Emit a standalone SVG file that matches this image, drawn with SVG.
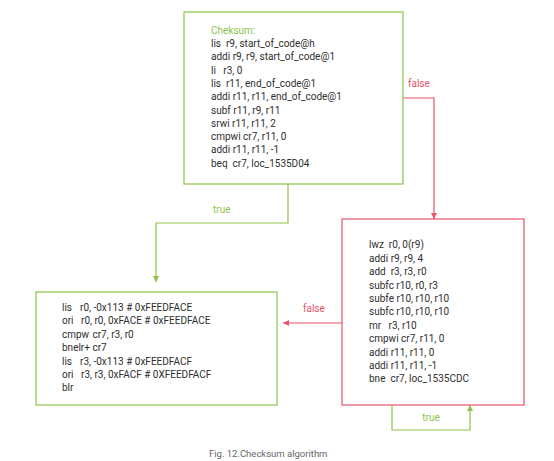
<svg xmlns="http://www.w3.org/2000/svg" width="554" height="461" viewBox="0 0 554 461">
<defs>
<style>
.code{font-family:Roboto,"Liberation Sans",sans-serif;font-size:10px;fill:#2e2e2e;white-space:pre}
.gbox{fill:#fff;stroke:#8bc34a;stroke-width:1.2}
.rbox{fill:#fff;stroke:#e8546a;stroke-width:1.2}
.gline{fill:none;stroke:#8bc34a;stroke-width:1.2}
.rline{fill:none;stroke:#e8546a;stroke-width:1.2}
.glabel{font-family:Roboto,"Liberation Sans",sans-serif;font-size:10px;fill:#8bc34a}
.rlabel{font-family:Roboto,"Liberation Sans",sans-serif;font-size:10px;fill:#e8546a}
.cap{font-family:Roboto,"Liberation Sans",sans-serif;font-size:9.5px;fill:#666}
</style>
<marker id="ag" viewBox="0 0 8 8" refX="8" refY="4" markerWidth="6" markerHeight="6" markerUnits="userSpaceOnUse" orient="auto"><path d="M0,0 L8,4 L0,8 z" fill="#8bc34a"/></marker>
<marker id="ar" viewBox="0 0 8 8" refX="8" refY="4" markerWidth="6" markerHeight="6" markerUnits="userSpaceOnUse" orient="auto"><path d="M0,0 L8,4 L0,8 z" fill="#e8546a"/></marker>
</defs>
<rect width="554" height="461" fill="#fff"/>
<g id="connectors">
<path class="gline" d="M288,184 V223 H156 V282" marker-end="url(#ag)"/>
<text class="glabel" x="213" y="213">true</text>
<path class="rline" d="M403,98 H434 V219" marker-end="url(#ar)"/>
<text class="rlabel" x="408" y="87">false</text>
<path class="rline" d="M342,323 H283" marker-end="url(#ar)"/>
<text class="rlabel" x="303" y="312">false</text>
<path class="gline" d="M392,405 V430 H470 V405" marker-end="url(#ag)"/>
<text class="glabel" x="431" y="421" text-anchor="middle">true</text>
</g>
<g id="checksum">
<rect class="gbox" x="184" y="12" width="219" height="172"/>
<text class="glabel" x="211" y="34">Cheksum:</text>
<text class="code" x="211" y="47" xml:space="preserve">lis  r9, start_of_code@h</text>
<text class="code" x="211" y="60.3" xml:space="preserve">addi r9, r9, start_of_code@1</text>
<text class="code" x="211" y="73.6" xml:space="preserve">li   r3, 0</text>
<text class="code" x="211" y="86.9" xml:space="preserve">lis  r11, end_of_code@1</text>
<text class="code" x="211" y="100.2" xml:space="preserve">addi r11, r11, end_of_code@1</text>
<text class="code" x="211" y="113.5" xml:space="preserve">subf r11, r9, r11</text>
<text class="code" x="211" y="126.8" xml:space="preserve">srwi r11, r11, 2</text>
<text class="code" x="211" y="140.1" xml:space="preserve">cmpwi cr7, r11, 0</text>
<text class="code" x="211" y="153.4" xml:space="preserve">addi r11, r11, -1</text>
<text class="code" x="211" y="166.7" xml:space="preserve">beq  cr7, loc_1535D04</text>
</g>
<g id="fail">
<rect class="gbox" x="36" y="292" width="241" height="113"/>
<text class="code" x="62" y="311">lis<tspan x="80">r0, -0x113 # 0xFEEDFACE</tspan></text>
<text class="code" x="62" y="324.4">ori<tspan x="81">r0, r0, 0xFACE # 0xFEEDFACE</tspan></text>
<text class="code" x="62" y="337.8">cmpw<tspan x="92.5">cr7, r3, r0</tspan></text>
<text class="code" x="62" y="351.2">bnelr+ cr7</text>
<text class="code" x="62" y="364.6">lis<tspan x="80">r3, -0x113 # 0xFEEDFACF</tspan></text>
<text class="code" x="62" y="378">ori<tspan x="81">r3, r3, 0xFACF # 0XFEEDFACF</tspan></text>
<text class="code" x="62" y="391.4">blr</text>
</g>
<g id="loop">
<rect class="rbox" x="342" y="219" width="182" height="186"/>
<text class="code" x="369" y="248.3" xml:space="preserve">lwz  r0, 0(r9)</text>
<text class="code" x="369" y="261.7" xml:space="preserve">addi r9, r9, 4</text>
<text class="code" x="369" y="275.1" xml:space="preserve">add  r3, r3, r0</text>
<text class="code" x="369" y="288.5" xml:space="preserve">subfc r10, r0, r3</text>
<text class="code" x="369" y="301.9" xml:space="preserve">subfe r10, r10, r10</text>
<text class="code" x="369" y="315.3" xml:space="preserve">subfc r10, r10, r10</text>
<text class="code" x="369" y="328.7" xml:space="preserve">mr   r3, r10</text>
<text class="code" x="369" y="342.1" xml:space="preserve">cmpwi cr7, r11, 0</text>
<text class="code" x="369" y="355.5" xml:space="preserve">addi r11, r11, 0</text>
<text class="code" x="369" y="368.9" xml:space="preserve">addi r11, r11, -1</text>
<text class="code" x="369" y="382.3" xml:space="preserve">bne  cr7, loc_1535CDC</text>
</g>
<text class="cap" x="209" y="457">Fig. 12.Checksum algorithm</text>
</svg>
